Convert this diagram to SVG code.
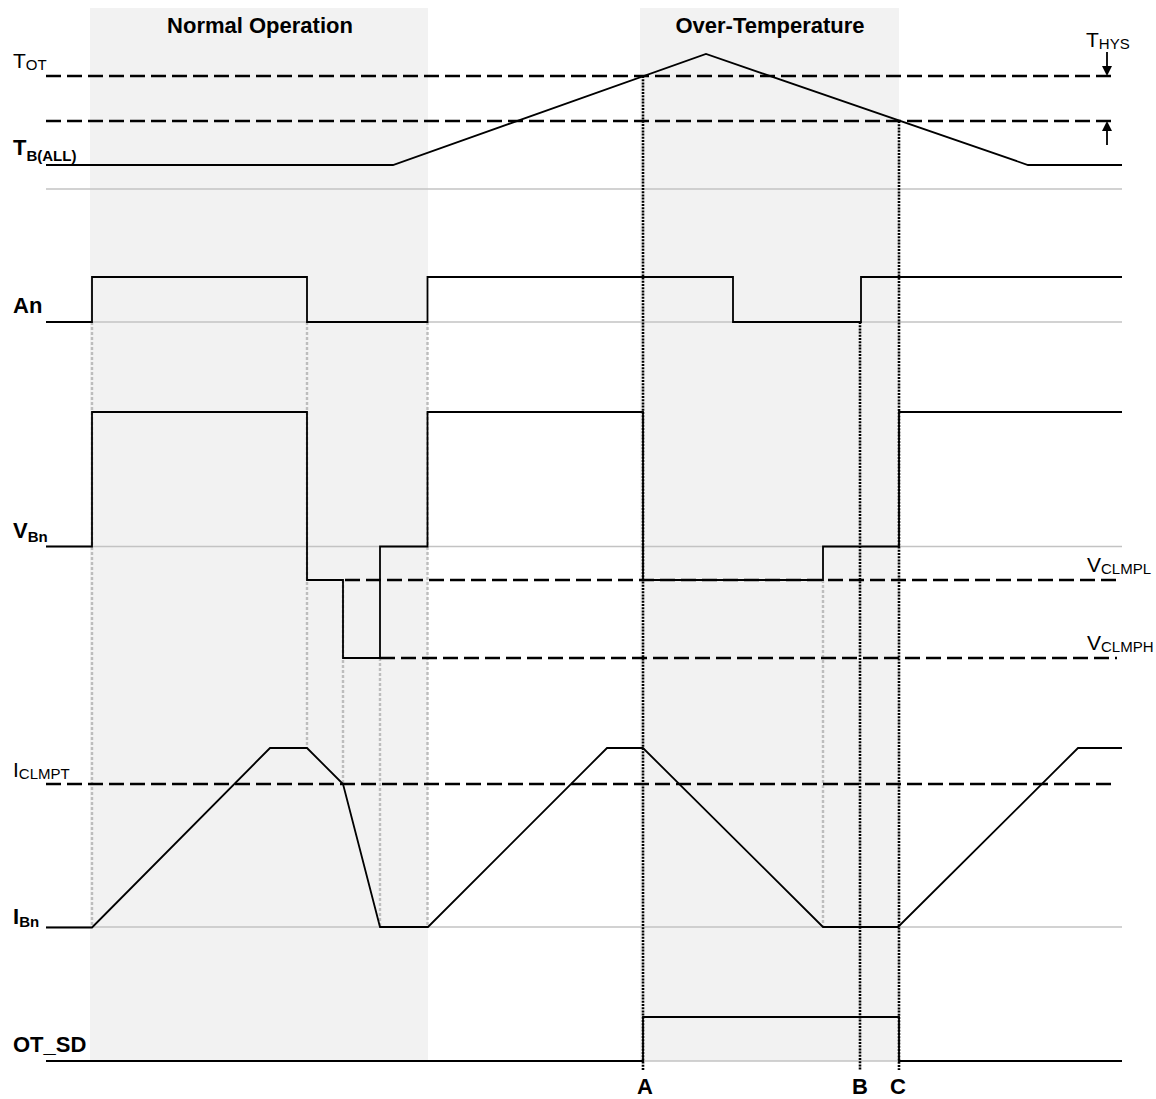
<svg xmlns="http://www.w3.org/2000/svg" width="1156" height="1099" viewBox="0 0 1156 1099">
<style>
.shade{fill:#f2f2f2}
.base{stroke:#c3c3c3;stroke-width:1.5;fill:none}
.sig{stroke:#000;stroke-width:1.8;fill:none}
.ref{stroke:#000;stroke-width:2.6;stroke-dasharray:15 6;fill:none}
.gdot{stroke:#bdbdbd;stroke-width:2.4;stroke-dasharray:3 2;fill:none}
.kdot{stroke:#000;stroke-width:2.6;stroke-dasharray:2 1.2;fill:none}
text{font-family:"Liberation Sans",Arial,sans-serif;fill:#000}
.b{font-weight:bold;font-size:22px}
.bs{font-weight:bold;font-size:15px}
.n{font-size:21px}
.ns{font-size:15px}
</style>
<rect width="1156" height="1099" fill="#fff"/>
<g id="regions">
<rect class="shade" x="90" y="8" width="338" height="1053"/>
<rect class="shade" x="640" y="8" width="259" height="1053"/>
<text class="b" x="260" y="33" text-anchor="middle">Normal Operation</text>
<text class="b" x="770" y="33" text-anchor="middle">Over-Temperature</text>
</g>
<g id="baselines">
<path class="base" d="M46,189H1122M46,322H1122M46,546.5H1122M46,927H1122M46,1061H1122"/>
</g>
<g id="connectors">
<path class="gdot" d="M92,322V927M307,322V748M343,580V784M380,658V927M427.5,322V927M823,580V927"/>
<path class="ref" d="M46,76H1117M46,121H1117M345,580H1117M380,658H1117M46,784H1117"/>
<path class="kdot" d="M643,76V1070M860,322V1070M899,121V1070"/>
</g>
<g id="TB">
<path class="sig" d="M46,165H393L706,54L1028,165H1122"/>
<text class="n" x="13" y="68">T<tspan class="ns" dy="2">OT</tspan></text>
<text class="b" x="13" y="155">T<tspan class="bs" dy="6">B(ALL)</tspan></text>
</g>
<g id="THYS">
<path class="sig" d="M1107,52V67M1107,130V145"/>
<polygon points="1102,66 1112,66 1107,76"/>
<polygon points="1102,131 1112,131 1107,121"/>
<text class="n" x="1086" y="47">T<tspan class="ns" dy="2">HYS</tspan></text>
</g>
<g id="An">
<path class="sig" d="M46,322H92V277H307V322H427.5V277H733V322H861V277H1122"/>
<text class="b" x="13" y="313">An</text>
</g>
<g id="VBn">
<path class="sig" d="M46,546.5H92V412H307V580H343V658H380V546.5H427.5V412H643V580H823V546.5H899V412H1122"/>
<text class="b" x="13" y="538">V<tspan class="bs" dy="4">Bn</tspan></text>
<text class="n" x="1087" y="572">V<tspan class="ns" dy="2">CLMPL</tspan></text>
<text class="n" x="1087" y="650">V<tspan class="ns" dy="2">CLMPH</tspan></text>
</g>
<g id="IBn">
<path class="sig" d="M46,927.5H92L270,748H307L343,784L380,927H428L607,748H643L823,927H898L1078,748H1122"/>
<text class="n" x="13" y="777">I<tspan class="ns" dy="2">CLMPT</tspan></text>
<text class="b" x="13" y="924">I<tspan class="bs" dy="3">Bn</tspan></text>
</g>
<g id="OT_SD">
<path class="sig" d="M46,1061H643V1017H899V1061H1122"/>
<text class="b" x="13" y="1052">OT_SD</text>
</g>
<g id="markers">
<text class="b" x="645" y="1094" text-anchor="middle">A</text>
<text class="b" x="860" y="1094" text-anchor="middle">B</text>
<text class="b" x="898" y="1094" text-anchor="middle">C</text>
</g>
</svg>
